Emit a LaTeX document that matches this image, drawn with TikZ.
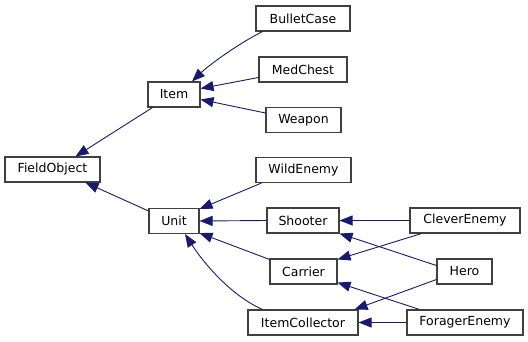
\documentclass[tikz,border=0pt]{standalone}
\usepackage{fontspec}
\setmainfont{DejaVu Sans}
\usetikzlibrary{arrows.meta}
\definecolor{edgeblue}{HTML}{191970}
\definecolor{boxline}{HTML}{404040}
\tikzset{
  cls/.style={draw=boxline, line width=1.1pt, fill=white, inner sep=0pt,
    minimum height=25pt, font=\fontsize{12.5}{14}\selectfont},
  inh/.style={draw=edgeblue, line width=0.9pt,
    -{Triangle[length=13pt,width=10pt]}},
}
\begin{document}
\begin{tikzpicture}[x=1pt,y=-1pt]
\useasboundingbox (0,0) rectangle (528,341);
% classes
\node[cls, minimum width=95pt]  (field)   at (52.5,169.5) {FieldObject};
\node[cls, minimum width=52pt]  (item)    at (174,94.5)   {Item};
\node[cls, minimum width=50pt]  (unit)    at (174,221)    {Unit};
\node[cls, minimum width=94pt]  (bullet)  at (303,18.5)   {BulletCase};
\node[cls, minimum width=88pt]  (med)     at (303,69.5)   {MedChest};
\node[cls, minimum width=75pt]  (weapon)  at (303.5,120)  {Weapon};
\node[cls, minimum width=95pt]  (wild)    at (303.5,170)  {WildEnemy};
\node[cls, minimum width=72pt]  (shooter) at (303,220.5)  {Shooter};
\node[cls, minimum width=67pt]  (carrier) at (303.5,271.5){Carrier};
\node[cls, minimum width=110pt] (collect) at (303,322.5)  {ItemCollector};
\node[cls, minimum width=110pt] (clever)  at (465,220.5)  {CleverEnemy};
\node[cls, minimum width=55pt]  (hero)    at (464.5,271.5){Hero};
\node[cls, minimum width=116pt] (forager) at (465,322.5)  {ForagerEnemy};
% inheritance arrows (child -> parent)
\draw[inh] ([xshift=5pt]item.south west) -- ([xshift=23pt]field.north);
\draw[inh] ([yshift=-3pt]unit.north west) -- ([xshift=33pt]field.south);
\draw[inh] ([xshift=7pt]bullet.south west) .. controls (236,45) and (208,66) .. ([xshift=18pt]item.north);
\draw[inh] ([yshift=-8pt]med.west) -- ([yshift=6pt]item.east);
\draw[inh] ([yshift=7pt]weapon.west) -- ([yshift=-5pt]item.east);
\draw[inh] ([xshift=6pt]wild.south west) -- ([yshift=-1pt]unit.north east);
\draw[inh] (shooter.west) -- (unit.east);
\draw[inh] ([yshift=-1pt]carrier.north west) -- ([yshift=1pt]unit.south east);
\draw[inh] ([xshift=15pt]collect.north west) .. controls (232,296) and (205,265) .. ([xshift=11pt]unit.south);
\draw[inh] (clever.west) -- (shooter.east);
\draw[inh] ([xshift=12pt]clever.south west) -- ([yshift=-1pt]carrier.north east);
\draw[inh] ([yshift=6pt]hero.west) -- (shooter.south east);
\draw[inh] ([yshift=-8pt]hero.west) -- ([xshift=-4pt]collect.north east);
\draw[inh] ([xshift=13pt]forager.north west) -- ([yshift=2pt]carrier.south east);
\draw[inh] (forager.west) -- (collect.east);
\end{tikzpicture}
\end{document}
